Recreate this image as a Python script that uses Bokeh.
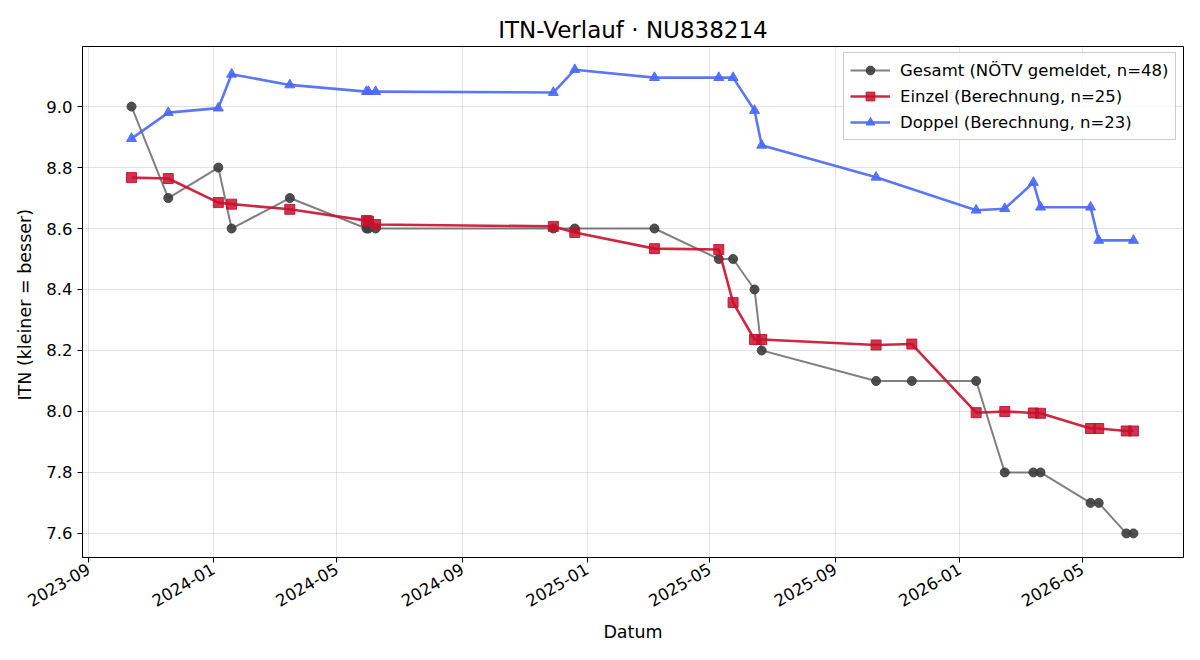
import math
from datetime import datetime

from bokeh.plotting import figure
from bokeh.models import (ColumnDataSource, MonthsTicker, DatetimeTickFormatter,
                          FixedTicker, Range1d, Legend, LegendItem, PrintfTickFormatter)
from bokeh.embed import file_html
from bokeh.resources import INLINE

# Match days (Einzel and Gesamt are reported on every day)
match_dates = [
    "2023-10-13", "2023-11-18", "2024-01-06", "2024-01-19", "2024-03-16",
    "2024-05-30", "2024-06-01", "2024-06-08", "2024-11-29", "2024-12-20",
    "2025-03-08", "2025-05-10", "2025-05-24", "2025-06-14", "2025-06-21",
    "2025-10-11", "2025-11-15", "2026-01-17", "2026-02-14", "2026-03-14",
    "2026-03-21", "2026-05-09", "2026-05-17", "2026-06-13", "2026-06-20",
]

# Reported ITN (NÖTV)
gesamt_itn = [
    9.0, 8.7, 8.8, 8.6, 8.7,
    8.6, 8.6, 8.6, 8.6, 8.6,
    8.6, 8.5, 8.5, 8.4, 8.2,
    8.1, 8.1, 8.1, 7.8, 7.8,
    7.8, 7.7, 7.7, 7.6, 7.6,
]

# Computed singles ITN
einzel_itn = [
    8.767, 8.764, 8.685, 8.680, 8.663,
    8.626, 8.624, 8.613, 8.607, 8.587,
    8.534, 8.531, 8.357, 8.236, 8.236,
    8.218, 8.221, 7.996, 8.000, 7.995,
    7.994, 7.944, 7.944, 7.936, 7.936,
]

# Computed doubles ITN (no doubles on 2025-11-15 and 2026-06-13)
doppel_dates = [
    "2023-10-13", "2023-11-18", "2024-01-06", "2024-01-19", "2024-03-16",
    "2024-05-30", "2024-06-01", "2024-06-08", "2024-11-29", "2024-12-20",
    "2025-03-08", "2025-05-10", "2025-05-24", "2025-06-14", "2025-06-21",
    "2025-10-11", "2026-01-17", "2026-02-14", "2026-03-14", "2026-03-21",
    "2026-05-09", "2026-05-17", "2026-06-20",
]
doppel_itn = [
    8.895, 8.980, 8.995, 9.106, 9.071,
    9.049, 9.049, 9.049, 9.046, 9.121,
    9.095, 9.095, 9.095, 8.987, 8.873,
    8.768, 8.660, 8.665, 8.751, 8.670,
    8.670, 8.561, 8.561,
]

y_ticks = [7.6, 7.8, 8.0, 8.2, 8.4, 8.6, 8.8, 9.0]


def to_dt(strings):
    return [datetime.strptime(s, "%Y-%m-%d") for s in strings]


FONT = "DejaVu Sans"

p = figure(
    width=1200, height=660,
    x_axis_type="datetime",
    output_backend="svg", toolbar_location=None,
    title="ITN-Verlauf · NU838214",
    x_range=Range1d(datetime(2023, 8, 26), datetime(2026, 8, 8)),
    y_range=Range1d(7.521, 9.197),
    min_border_left=82, min_border_right=17,
    min_border_top=46, min_border_bottom=103,
)
p.background_fill_color = "white"
p.border_fill_color = "white"
p.outline_line_color = "black"
p.outline_line_width = 1

p.title.align = "center"
p.title.text_font = FONT
p.title.text_font_size = "23px"
p.title.text_font_style = "normal"
p.title.text_color = "black"
p.title.offset = 0
p.title.standoff = 8

src_g = ColumnDataSource(dict(x=to_dt(match_dates), y=gesamt_itn))
src_e = ColumnDataSource(dict(x=to_dt(match_dates), y=einzel_itn))
src_d = ColumnDataSource(dict(x=to_dt(doppel_dates), y=doppel_itn))

g_line = p.line("x", "y", source=src_g, line_color="#444444", line_alpha=0.68, line_width=2)
g_mark = p.scatter("x", "y", source=src_g, marker="circle", size=9,
                   fill_color="#3d3d3d", line_color="#3d3d3d", fill_alpha=0.9, line_alpha=0.9)

e_line = p.line("x", "y", source=src_e, line_color="#c8102e", line_alpha=0.9, line_width=2.6)
e_mark = p.scatter("x", "y", source=src_e, marker="square", size=10,
                   fill_color="#c8102e", line_color="#c8102e", fill_alpha=0.85, line_alpha=0.9)

d_line = p.line("x", "y", source=src_d, line_color="#4a68f5", line_alpha=0.9, line_width=2.6)
d_mark = p.scatter("x", "y", source=src_d, marker="triangle", size=10,
                   fill_color="#4a68f5", line_color="#4a68f5", fill_alpha=0.9, line_alpha=0.9)

# legend box placed in the upper-right corner of the frame (screen units)
legend = Legend(items=[
    LegendItem(label="Gesamt (NÖTV gemeldet, n=48)", renderers=[g_line, g_mark]),
    LegendItem(label="Einzel (Berechnung, n=25)", renderers=[e_line, e_mark]),
    LegendItem(label="Doppel (Berechnung, n=23)", renderers=[d_line, d_mark]),
], location=(761, 417))
legend.label_text_font = FONT
legend.label_text_font_size = "16.5px"
legend.label_text_color = "black"
legend.label_height = 22
legend.glyph_height = 22
legend.glyph_width = 40
legend.label_standoff = 10
legend.spacing = 4
legend.padding = 6
legend.margin = 0
legend.border_line_color = "#cccccc"
legend.border_line_alpha = 1
legend.background_fill_alpha = 0.8
p.add_layout(legend)

# axes
p.xaxis.ticker = MonthsTicker(months=[0, 4, 8])
fmt = "%Y-%m"
p.xaxis.formatter = DatetimeTickFormatter(days=fmt, months=fmt, years=fmt)
p.xaxis.major_label_orientation = math.pi / 6
p.yaxis.ticker = FixedTicker(ticks=y_ticks)
p.yaxis.formatter = PrintfTickFormatter(format="%.1f")

for ax in (p.xaxis, p.yaxis):
    ax.axis_line_color = "black"
    ax.major_tick_line_color = "black"
    ax.major_tick_out = 5
    ax.major_tick_in = 0
    ax.minor_tick_line_color = None
    ax.major_label_text_font = FONT
    ax.major_label_text_font_size = "16.5px"
    ax.major_label_text_color = "black"
    ax.axis_label_text_font = FONT
    ax.axis_label_text_font_size = "17.5px"
    ax.axis_label_text_font_style = "normal"
    ax.axis_label_text_color = "black"

p.xaxis.axis_label = "Datum"
p.yaxis.axis_label = "ITN  (kleiner = besser)"
p.yaxis.axis_label_standoff = 8
p.xaxis.axis_label_standoff = 7

p.xgrid.ticker = p.xaxis.ticker
p.ygrid.ticker = p.yaxis.ticker
p.grid.grid_line_color = "#b0b0b0"
p.grid.grid_line_alpha = 0.35
p.grid.grid_line_width = 1

open("out.html", "w").write(file_html(p, INLINE))
